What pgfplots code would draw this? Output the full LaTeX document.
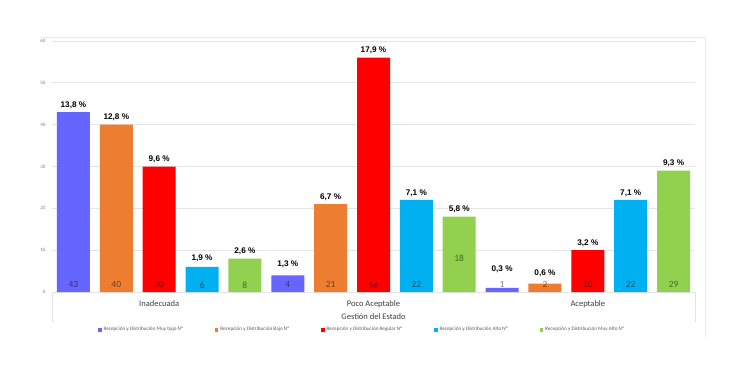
\documentclass[border=0pt]{standalone}
\usepackage{pgfplots}
\pgfplotsset{compat=1.18}
\usepackage{pgfplotstable}
\usepackage{fontspec}
\setmainfont{Carlito}
\newfontfamily\arialf{Liberation Sans}
\definecolor{cMB}{HTML}{6666FF}
\definecolor{cB}{HTML}{ED7D31}
\definecolor{cR}{HTML}{FF0000}
\definecolor{cA}{HTML}{00B0F0}
\definecolor{cMA}{HTML}{92D050}
\definecolor{gridc}{HTML}{E4E4E4}
\definecolor{txtg}{HTML}{595959}

\pgfplotstableread{
x y p dy
0 43 13,8 0
5 4 1,3 4
10 1 0,3 12
}\muybajo
\pgfplotstableread{
x y p dy
1 40 12,8 0
6 21 6,7 0
11 2 0,6 3
}\bajo
\pgfplotstableread{
x y p dy
2 30 9,6 0
7 56 17,9 0
12 10 3,2 0
}\regular
\pgfplotstableread{
x y p dy
3 6 1,9 2
8 22 7,1 0
13 22 7,1 0
}\alto
\pgfplotstableread{
x y p dy
4 8 2,6 0
9 18 5,8 0
14 29 9,3 0
}\muyalto
\pgfplotstableread{
x ly n
0 1.7 43
1 1.7 40
2 1.7 30
3 1.7 6
4 1.7 8
5 1.7 4
6 1.7 21
7 1.7 56
8 1.7 22
9 8 18
10 1.7 1
11 1.7 2
12 1.7 10
13 1.7 22
14 1.7 29
}\counts

\begin{document}
\begin{tikzpicture}
\useasboundingbox (-52pt,-75pt) rectangle (692pt,292pt);
\begin{axis}[
  at={(0pt,0pt)}, anchor=south west,
  scale only axis, width=643pt, height=251pt,
  xmin=-0.5, xmax=14.5, ymin=0, ymax=60,
  clip=false,
  axis line style={draw=none},
  major tick length=0pt,
  ytick={0,10,...,60},
  ymajorgrids, grid style={gridc, line width=0.8pt},
  /pgf/number format/assume math mode=true,
  yticklabel style={font=\fontsize{5}{6}\selectfont, text=gray, xshift=-3pt},
  xtick={2,7,12},
  xticklabels={Inadecuada, Poco Aceptable, Aceptable},
  xticklabel style={font=\fontsize{8.5}{10}\selectfont, text=txtg!70!black, anchor=base, yshift=-14pt},
  xlabel={Gestión del Estado},
  xlabel style={font=\fontsize{8.5}{10}\selectfont, text=txtg!70!black, at={(axis description cs:0.5,0)}, anchor=base, yshift=-27pt},
  sq/.style={legend image code/.code={\fill[#1] (0pt,-1.8pt) rectangle (3.6pt,1.8pt);}},
  pct/.style={visualization depends on={\thisrow{dy} \as \dy},
    nodes near coords={\pgfplotspointmeta~\%}, point meta=explicit symbolic,
    nodes near coords style={font=\arialf\bfseries\fontsize{8.2}{9}\selectfont, text=black, anchor=south, yshift=\dy pt}},
  legend columns=5,
  legend style={draw=none, fill=none, font=\fontsize{5.2}{6}\selectfont, text=txtg,
    at={(0.482,-0.151)}, anchor=center,
    /tikz/every even column/.append style={column sep=30pt}},
]
\addplot[ybar, bar width=33pt, bar shift=0pt, fill=cMB, draw=none, pct, sq=cMB] table[x=x,y=y,meta=p]{\muybajo};
\addlegendentry{Recepción y Distribución Muy bajo N°}
\addplot[ybar, bar width=33pt, bar shift=0pt, fill=cB, draw=none, pct, sq=cB] table[x=x,y=y,meta=p]{\bajo};
\addlegendentry{Recepción y Distribución Bajo N°}
\addplot[ybar, bar width=33pt, bar shift=0pt, fill=cR, draw=none, pct, sq=cR] table[x=x,y=y,meta=p]{\regular};
\addlegendentry{Recepción y Distribución Regular N°}
\addplot[ybar, bar width=33pt, bar shift=0pt, fill=cA, draw=none, pct, sq=cA] table[x=x,y=y,meta=p]{\alto};
\addlegendentry{Recepción y Distribución Alto N°}
\addplot[ybar, bar width=33pt, bar shift=0pt, fill=cMA, draw=none, pct, sq=cMA] table[x=x,y=y,meta=p]{\muyalto};
\addlegendentry{Recepción y Distribución Muy Alto N°}
\addplot[draw=none, mark=none, forget plot, point meta=explicit symbolic,
  nodes near coords={\pgfplotspointmeta},
  nodes near coords style={anchor=center, font=\fontsize{9.5}{10}\selectfont, text=black, text opacity=0.5}]
  table[x=x,y=ly,meta=n]{\counts};
\draw[gridc] (rel axis cs:0,0) -- ++(0pt,-30pt);
\draw[gridc] (rel axis cs:1,0) -- ++(0pt,-30pt);
\end{axis}
\draw[gridc!70] (-12pt,255pt) -- (653pt,255pt) -- (653pt,-45pt);
\end{tikzpicture}
\end{document}
